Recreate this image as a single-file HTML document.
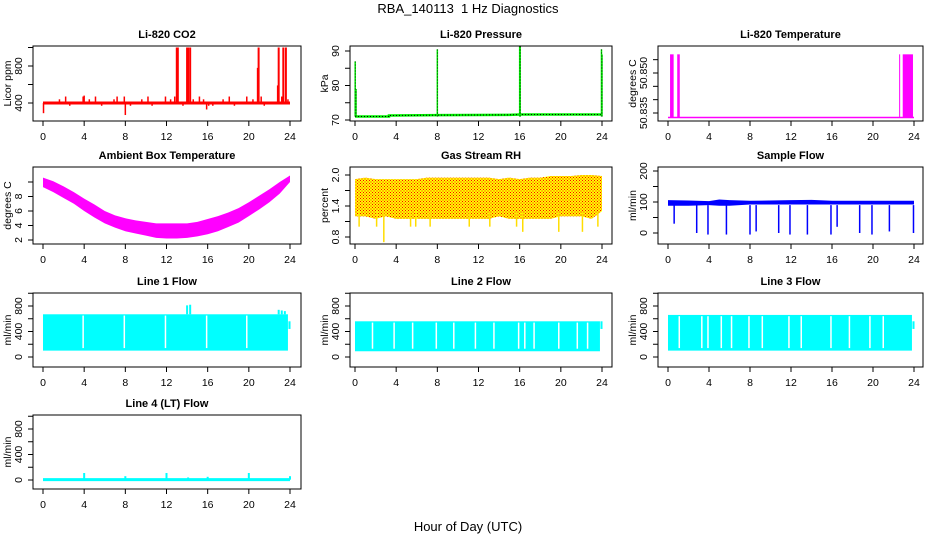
<!DOCTYPE html>
<html><head><meta charset="utf-8">
<style>
html,body{margin:0;padding:0;background:#fff;}
svg{display:block;font-family:"Liberation Sans",Arial,sans-serif;}
.t{font-weight:bold;font-size:11px;}
.tk{font-size:10.5px;}
</style></head>
<body>
<svg id="chart" width="936" height="540" viewBox="0 0 936 540">
<defs>
<pattern id="rhpat" width="3" height="3" patternUnits="userSpaceOnUse">
<rect width="3" height="3" fill="#ffff00"/><rect x="0" y="0" width="1" height="1" fill="#ff0000"/><rect x="1.5" y="1.5" width="1" height="1" fill="#ff0000"/>
</pattern>
</defs>
<text x="468" y="13" text-anchor="middle" font-size="13" style="white-space:pre">RBA_140113  1 Hz Diagnostics</text>
<text x="468" y="531" text-anchor="middle" font-size="13">Hour of Day (UTC)</text>
</svg>
<script>
// ---- data arrays ----
const xTicks = [0,4,8,12,16,20,24];
const co2SpikeHours = [0.05,1.6,2.2,2.6,3.9,4.0,4.5,5.1,5.7,6.9,7.2,7.9,8.0,8.5,9.6,10.2,10.6,11.9,12.4,12.8,13.0,13.1,13.6,14.0,14.1,14.3,14.6,15.2,15.6,15.9,16.1,16.5,17.5,18.1,18.6,19.8,20.4,20.85,20.95,21.2,21.5,22.8,22.9,23.2,23.35,23.6,23.8];
const co2SpikeVals  = [290,440,470,370,470,480,440,470,370,440,470,470,270,370,440,470,370,470,440,470,1000,1000,370,1000,1000,1000,440,470,440,330,370,370,440,470,370,470,440,780,1000,470,370,590,1000,470,1000,1000,440];
const presBaseHours = [0,3.3,3.3,8,15,16,24];
const presBaseVals  = [71,71,71.3,71.4,71.5,71.6,71.6];
const presSpikeHours = [0.02,0.1,8.0,16.0,16.05,23.95,24.0];
const presSpikeVals  = [87,79,90.5,91.5,91.5,90.5,89];
const tempBase = 50.8333;
const tempTop = 50.857;
const tempBlockStart = [0.2,0.9,22.9];
const tempBlockEnd   = [0.55,1.15,23.9];
const tempThinHours = [22.6];
const ambHours = [0,1,2,3,4,5,6,7,8,9,10,11,12,13,14,15,16,17,18,19,20,21,22,23,24];
const ambHi = [10.6,10.1,9.4,8.6,7.7,6.9,6.0,5.4,5.0,4.7,4.5,4.3,4.3,4.3,4.3,4.5,4.9,5.3,5.8,6.4,7.2,8.1,9.0,10.0,10.9];
const ambLo = [9.3,8.6,7.8,7.0,6.0,5.1,4.3,3.7,3.2,2.9,2.6,2.3,2.2,2.2,2.3,2.5,2.8,3.2,3.8,4.4,5.3,6.2,7.2,8.4,10.0];
const rhHours = [0,1,2,3,4,5,6,7,8,9,10,11,12,13,14,15,16,17,18,19,20,21,22,23,24];
const rhHi = [1.92,1.95,1.92,1.92,1.92,1.92,1.92,1.95,1.95,1.95,1.95,1.95,1.95,1.95,1.92,1.95,1.92,1.95,1.95,1.98,1.98,1.98,2.0,2.0,1.98];
const rhLo = [1.2,1.2,1.15,1.2,1.15,1.15,1.15,1.15,1.15,1.15,1.15,1.15,1.15,1.15,1.2,1.15,1.15,1.15,1.15,1.15,1.2,1.2,1.2,1.15,1.3];
const rhDipHours = [0.4,2.1,2.8,5.4,5.9,7.3,11.1,13.1,15.7,16.3,19.8,22.1,23.6];
const rhDipVals  = [1.0,1.0,0.7,1.0,1.0,1.0,1.0,1.0,1.0,0.9,0.9,0.9,1.0];
const sfHours = [0,2,4,5,6,8,12,14,16,20,24];
const sfHi = [106,105,103,108,106,104,106,107,104,104,104];
const sfLo = [88,88,90,88,88,92,92,92,92,92,92];
const sfDipHours = [0.6,2.8,3.9,5.7,8.0,8.6,10.8,11.9,13.6,15.9,16.5,18.7,19.9,21.6,23.95];
const sfDipVals  = [30,0,-5,-5,-5,5,0,-5,-5,-5,20,0,-5,5,0];
const l1Hi = 670, l1Lo = 100;
const l1Gaps = [3.9,7.9,11.9,15.9,19.8];
const l1SpikeHours = [14.0,14.3,22.9,23.2,23.5];
const l1SpikeVals  = [810,820,740,730,720];
const l2Hi = 560, l2Lo = 90;
const l2Gaps = [1.7,3.8,5.6,7.9,9.6,11.7,13.5,15.9,16.5,17.4,19.8,21.6,22.6];
const l3Hi = 660, l3Lo = 100;
const l3Gaps = [1.1,3.3,3.9,5.2,6.2,7.9,9.2,11.8,13.0,15.9,17.7,19.7,21.0];
const l4Base = 5;
const l4SpikeHours = [4.0,8.0,12.0,14.1,16.0,20.0,24.0];
const l4SpikeVals  = [110,60,110,40,50,110,60];

// ---- layout ----
const NS = "http://www.w3.org/2000/svg";
const svg = document.getElementById('chart');
const cols = [{x1:33,x2:301,a:43,b:290},{x1:350,x2:612,a:355,b:602},{x1:658,x2:923,a:668,b:914}];
const rows = [{y1:46,y2:121},{y1:167,y2:244},{y1:293,y2:367},{y1:415,y2:489}];
function mk(tag, attrs, parent){const e=document.createElementNS(NS,tag);for(const k in attrs)e.setAttribute(k,attrs[k]);(parent||svg).appendChild(e);return e;}

function panel(ci, ri, name, title, ylab, v1, p1, v2, p2, yticks, ylabels){
  const c=cols[ci], r=rows[ri];
  const g=mk('g',{});
  
  
  const sx=h=>c.a+(c.b-c.a)*h/24;
  const sy=v=>p1+(p2-p1)*(v-v1)/(v2-v1);
  const t=mk('text',{x:(c.x1+c.x2)/2,y:r.y1-8,'text-anchor':'middle',class:'t'},g);t.textContent=title;
  
  
  const plot=mk('g',{},g);
  
  
  const box=mk('rect',{x:c.x1,y:r.y1,width:c.x2-c.x1,height:r.y2-r.y1,fill:'none',stroke:'#000','stroke-width':1},g);
  
  
  const xa=mk('g',{},g);
  
  
  mk('line',{x1:sx(0),x2:sx(24),y1:r.y2,y2:r.y2,stroke:'#000'},xa);
  xTicks.forEach(h=>{
    mk('line',{x1:sx(h),x2:sx(h),y1:r.y2,y2:r.y2+5,stroke:'#000'},xa);
    const tt=mk('text',{x:sx(h),y:r.y2+19,'text-anchor':'middle',class:'tk'},xa);tt.textContent=h;
  });
  const ya=mk('g',{},g);
  
  
  mk('line',{x1:c.x1,x2:c.x1,y1:sy(yticks[0]),y2:sy(yticks[yticks.length-1]),stroke:'#000'},ya);
  yticks.forEach(v=>{mk('line',{x1:c.x1-5,x2:c.x1,y1:sy(v),y2:sy(v),stroke:'#000'},ya);});
  ylabels.forEach(v=>{
    const x=c.x1-11, y=sy(v);
    const tt=mk('text',{x:x,y:y,'text-anchor':'middle',class:'tk',transform:`rotate(-90 ${x} ${y})`},ya);tt.textContent=v;
  });
  const yl=mk('text',{x:c.x1-22,y:(r.y1+r.y2)/2,'text-anchor':'middle',class:'tk',transform:`rotate(-90 ${c.x1-22} ${(r.y1+r.y2)/2})`},ya);
  yl.textContent=ylab;
  
  
  return {sx,sy,plot,r,c};
}
function band(P, hours, hi, lo, fill){
  let pts=hours.map((h,i)=>P.sx(h)+','+P.sy(hi[i]));
  for(let i=hours.length-1;i>=0;i--)pts.push(P.sx(hours[i])+','+P.sy(lo[i]));
  return mk('polygon',{points:pts.join(' '),fill:fill},P.plot);
}
function vseg(P,h,v0,v1,col,w){return mk('line',{x1:P.sx(h),x2:P.sx(h),y1:P.sy(v0),y2:P.sy(v1),stroke:col,'stroke-width':w||1},P.plot);}

// CO2
let P=panel(0,0,'co2','Li-820 CO2','Licor ppm',400,103,800,66,[400,600,800,1000],[400,800]);
mk('line',{x1:P.sx(0),x2:P.sx(24),y1:P.sy(400),y2:P.sy(400),stroke:'#ff0000','stroke-width':3},P.plot);
co2SpikeHours.forEach((h,i)=>vseg(P,h,400,co2SpikeVals[i],'#ff0000',co2SpikeVals[i]>900?2:1.5));

// Pressure
P=panel(1,0,'pressure','Li-820 Pressure','kPa',70,120,90,51,[70,75,80,85,90],[70,80,90]);
mk('polyline',{points:presBaseHours.map((h,i)=>P.sx(h)+','+P.sy(presBaseVals[i])).join(' '),fill:'none',stroke:'#00ee00','stroke-width':2.5},P.plot);
mk('polyline',{points:presBaseHours.map((h,i)=>P.sx(h)+','+P.sy(presBaseVals[i])).join(' '),fill:'none',stroke:'#000','stroke-width':1,'stroke-dasharray':'1,2'},P.plot);
presSpikeHours.forEach((h,i)=>{vseg(P,h,71,presSpikeVals[i],'#00ee00',1.5);const l=vseg(P,h,71,presSpikeVals[i],'#000',0.8);l.setAttribute('stroke-dasharray','1,2');});

// Temperature
P=panel(2,0,'li820-temperature','Li-820 Temperature','degrees C',50.835,113,50.850,73,[50.835,50.840,50.845,50.850,50.855],['50.835','50.850']);
mk('line',{x1:P.sx(0),x2:P.sx(24),y1:P.sy(tempBase),y2:P.sy(tempBase),stroke:'#ff00ff','stroke-width':1.5},P.plot);
tempBlockStart.forEach((s,i)=>mk('rect',{x:P.sx(s),y:P.sy(tempTop),width:P.sx(tempBlockEnd[i])-P.sx(s),height:P.sy(tempBase)-P.sy(tempTop),fill:'#ff00ff'},P.plot));
tempThinHours.forEach(h=>vseg(P,h,tempBase,tempTop,'#ff00ff',1));

// Ambient
P=panel(0,1,'ambient-temperature','Ambient Box Temperature','degrees C',2,240,10,182,[2,4,6,8,10],[2,4,6,8]);
band(P,ambHours,ambHi,ambLo,'#ff00ff');

// RH
P=panel(1,1,'gas-stream-rh','Gas Stream RH','percent',0.8,237,2.0,175,[0.8,1.1,1.4,1.7,2.0],['0.8','1.4','2.0']);
band(P,rhHours,rhHi,rhLo,'url(#rhpat)');
rhDipHours.forEach((h,i)=>vseg(P,h,1.3,rhDipVals[i],'#ffdd00',1.5));

// Sample flow
P=panel(2,1,'sample-flow','Sample Flow','ml/min',0,233,200,171,[0,50,100,150,200],[0,100,200]);
band(P,sfHours,sfHi,sfLo,'#0000ff');
sfDipHours.forEach((h,i)=>vseg(P,h,90,sfDipVals[i],'#0000ff',1.5));

// Line flows
function lineFlow(ci,name,title,hi,lo,gaps){
  const Q=panel(ci,2,name,title,'ml/min',0,357,800,306,[0,200,400,600,800,1000],[0,400,800]);
  mk('rect',{x:Q.sx(0),y:Q.sy(hi),width:Q.sx(23.8)-Q.sx(0),height:Q.sy(lo)-Q.sy(hi),fill:'#00ffff'},Q.plot);
  mk('rect',{x:Q.sx(23.85),y:Q.sy(560),width:Q.sx(24.05)-Q.sx(23.85),height:Q.sy(440)-Q.sy(560),fill:'#00ffff'},Q.plot);
  gaps.forEach(h=>vseg(Q,h,hi-20,lo+40,'#ffffff',1.5));
  return Q;
}
P=lineFlow(0,'line-1-flow','Line 1 Flow',l1Hi,l1Lo,l1Gaps);
l1SpikeHours.forEach((h,i)=>vseg(P,h,l1Hi,l1SpikeVals[i],'#00ffff',2));
lineFlow(1,'line-2-flow','Line 2 Flow',l2Hi,l2Lo,l2Gaps);
lineFlow(2,'line-3-flow','Line 3 Flow',l3Hi,l3Lo,l3Gaps);

// Line 4
P=panel(0,3,'line-4-flow','Line 4 (LT) Flow','ml/min',0,480,800,429,[0,200,400,600,800,1000],[0,400,800]);
mk('line',{x1:P.sx(0),x2:P.sx(24),y1:P.sy(l4Base),y2:P.sy(l4Base),stroke:'#00ffff','stroke-width':3},P.plot);
l4SpikeHours.forEach((h,i)=>vseg(P,h,l4Base,l4SpikeVals[i],'#00ffff',2));
</script>
</body></html>
